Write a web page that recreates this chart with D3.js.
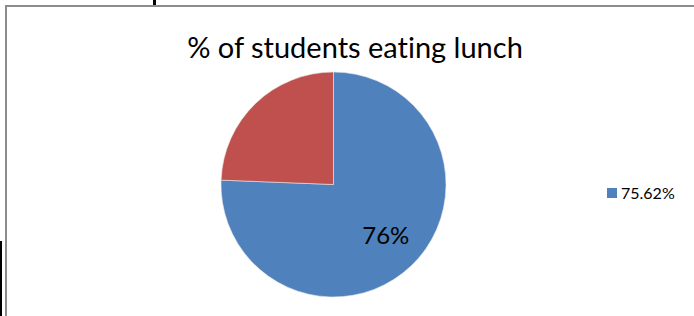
<!DOCTYPE html>
<html>
<head>
<meta charset="utf-8">
<script src="https://cdn.jsdelivr.net/npm/d3@7"></script>
<style>
    body { margin: 0; background: #fff; }
    svg { display: block; }
    text { font-family: Lato, "Open Sans", sans-serif; font-variant-ligatures: none; }
</style>
</head>
<body>
<div id="chart"></div>
<script>
// data
const categories = ['75.62%', ''];
const values = [75.62, 24.38];
const sliceLabels = ['76%', ''];
const legendItems = ['75.62%'];
const colors = ['#4f81bd', '#c0504d'];
const title = '% of students eating lunch';

const draw = () => {
    const dimensions = {
        width: 694,
        height: 316,
        cx: 333.5,
        cy: 184.5,
        radius: 112.5
    }

    const svg = d3.select('#chart')
        .append('svg')
        .attr('width', dimensions.width)
        .attr('height', dimensions.height);

    // chart frame (cropped)
    svg.append('path')
        .attr('d', `M6,${dimensions.height} V6 H${dimensions.width}`)
        .attr('fill', 'none')
        .attr('stroke', '#8c8c8c')
        .attr('stroke-width', 2);

    // stray black marks from the page around the chart
    svg.append('rect').attr('x', 153).attr('y', 0).attr('width', 3).attr('height', 5).attr('fill', '#000');
    svg.append('rect').attr('x', 0).attr('y', 241).attr('width', 2).attr('height', 75).attr('fill', '#000');

    // title
    svg.append('text')
        .attr('x', 355)
        .attr('y', 58)
        .attr('text-anchor', 'middle')
        .attr('font-size', 29)
        .attr('fill', '#000')
        .text(title);

    // pie
    const data = values.map((v, i) => ({ category: categories[i], value: v, label: sliceLabels[i], color: colors[i] }));

    const pie = d3.pie()
        .value(d => d.value)
        .sort(null);

    const arc = d3.arc()
        .innerRadius(0)
        .outerRadius(dimensions.radius);

    const container = svg.append('g')
        .attr('transform', `translate(${dimensions.cx}, ${dimensions.cy})`);

    const arcs = pie(data);

    container.selectAll('path')
        .data(arcs)
        .join('path')
        .attr('d', arc)
        .attr('fill', d => d.data.color)
        .attr('stroke', '#e8e8e8')
        .attr('stroke-width', 0.6);

    const labelArc = d3.arc()
        .innerRadius(dimensions.radius * 0.67)
        .outerRadius(dimensions.radius * 0.67);

    container.selectAll('text.slice-label')
        .data(arcs.filter(d => d.data.label))
        .join('text')
        .classed('slice-label', true)
        .attr('transform', d => {
            const [x, y] = labelArc.centroid(d);
            return `translate(${x}, ${y})`;
        })
        .attr('text-anchor', 'middle')
        .attr('dy', '0.2em')
        .attr('font-size', 24)
        .attr('fill', '#000')
        .text(d => d.data.label);

    // legend
    const legend = svg.append('g')
        .attr('transform', 'translate(607, 188)');

    const legendRows = legend.selectAll('g')
        .data(legendItems)
        .join('g')
        .attr('transform', (d, i) => `translate(0, ${i * 20})`);

    legendRows.append('rect')
        .attr('width', 10)
        .attr('height', 10)
        .attr('fill', (d, i) => colors[i]);

    legendRows.append('text')
        .attr('x', 14)
        .attr('y', 10.5)
        .attr('font-size', 16)
        .attr('fill', '#000')
        .text(d => d);
}

draw();
</script>
</body>
</html>
